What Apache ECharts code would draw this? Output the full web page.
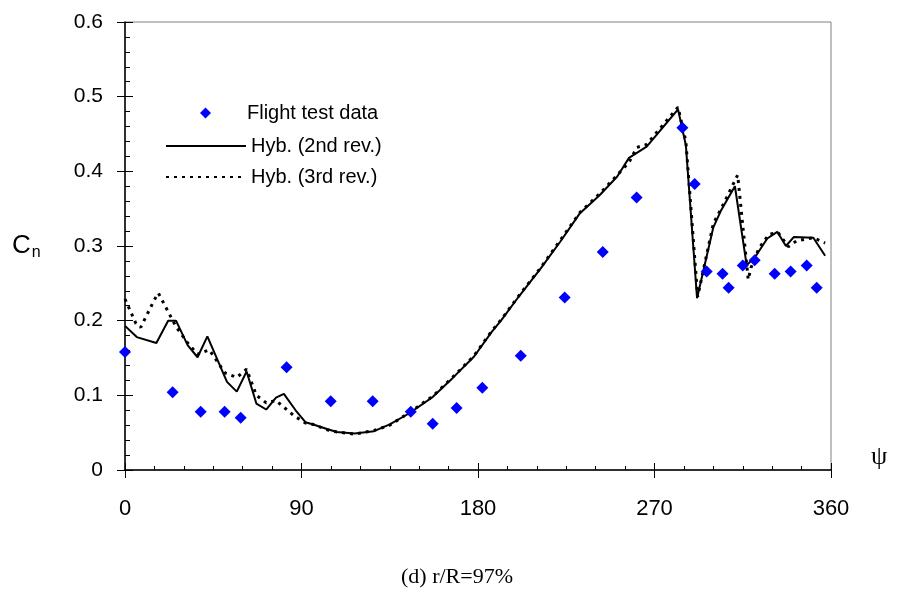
<!DOCTYPE html>
<html>
<head>
<meta charset="utf-8">
<script src="https://cdn.jsdelivr.net/npm/echarts@6/dist/echarts.min.js"></script>
<style>html,body{margin:0;padding:0;background:#fff}#c{width:914px;height:598px}</style>
</head>
<body>
<div id="c"></div>
<script>
// Flight test data
const psiFlight = [0, 24.3, 38.6, 50.8, 59, 82.4, 104.9, 126.3, 145.7, 156.9, 169.1, 182.2, 201.8, 224.2, 243.6, 260.9, 284.2, 290.5, 296.6, 304.7, 307.8, 315, 321.1, 331.3, 339.4, 347.6, 352.7];
const cnFlight  = [0.158, 0.104, 0.078, 0.078, 0.070, 0.1375, 0.092, 0.092, 0.078, 0.062, 0.083, 0.110, 0.153, 0.231, 0.292, 0.365, 0.4585, 0.383, 0.266, 0.263, 0.244, 0.274, 0.281, 0.263, 0.266, 0.274, 0.244];
// Hyb. (2nd rev.)
const psi2 = [0, 6, 16, 22, 26, 32, 37, 42, 52, 57, 62, 67, 72, 77, 81, 87, 92, 96, 103, 108, 117, 127, 135, 145, 157, 167, 178, 187, 192, 201, 212, 222, 232, 242, 251, 257, 266, 273, 282, 286, 291.7, 300, 304, 311, 317, 322, 327.5, 332.6, 337, 341, 351, 357];
const cn2  = [0.193, 0.178, 0.170, 0.200, 0.200, 0.167, 0.151, 0.179, 0.118, 0.105, 0.132, 0.089, 0.081, 0.097, 0.102, 0.080, 0.064, 0.061, 0.055, 0.051, 0.049, 0.052, 0.061, 0.076, 0.098, 0.123, 0.152, 0.185, 0.201, 0.233, 0.270, 0.306, 0.344, 0.368, 0.393, 0.418, 0.433, 0.455, 0.483, 0.435, 0.230, 0.325, 0.348, 0.380, 0.274, 0.288, 0.310, 0.319, 0.300, 0.312, 0.311, 0.287];
// Hyb. (3rd rev.)
const psi3 = [0, 5.6, 8, 15, 17, 26, 32, 37, 43, 51, 57, 62, 67, 72, 77, 86, 92, 96, 103, 108, 117, 127, 135, 145, 157, 167, 178, 187, 192, 201, 212, 222, 232, 242, 251, 257, 261, 266, 273, 282, 286, 292, 300, 304, 312.4, 317.8, 319.2, 323.3, 328.5, 333, 338.2, 342.5, 351, 357];
const cn3  = [0.229, 0.196, 0.191, 0.228, 0.237, 0.192, 0.170, 0.155, 0.161, 0.130, 0.124, 0.135, 0.100, 0.090, 0.093, 0.073, 0.063, 0.061, 0.054, 0.051, 0.048, 0.053, 0.060, 0.077, 0.099, 0.124, 0.153, 0.186, 0.202, 0.234, 0.271, 0.308, 0.345, 0.370, 0.395, 0.412, 0.432, 0.436, 0.458, 0.486, 0.440, 0.232, 0.330, 0.350, 0.395, 0.255, 0.271, 0.297, 0.316, 0.318, 0.299, 0.307, 0.311, 0.304];
const xTicks = [0, 90, 180, 270, 360];
const yTicks = [0, 0.1, 0.2, 0.3, 0.4, 0.5, 0.6];

const zip = (a, b) => a.map((v, i) => [v, b[i]]);
const FONT = 'Liberation Sans, Arial, sans-serif';
const chart = echarts.init(document.getElementById('c'), null, {renderer: 'canvas'});
const legText = {color: '#000', fontFamily: FONT, fontSize: 20};
chart.setOption({
  animation: false,
  backgroundColor: '#fff',
  grid: {left: 125, right: 83, top: 22, bottom: 128, show: true, borderColor: '#808080', borderWidth: 1, backgroundColor: 'transparent'},
  xAxis: [
    {type: 'value', min: 0, max: 360, interval: 90, position: 'bottom',
     axisLine: {show: true, onZero: false, lineStyle: {color: '#000', width: 1.5}},
     axisTick: {show: true, inside: true, length: 7, lineStyle: {color: '#000'}},
     minorTick: {show: true, splitNumber: 6, length: 4, lineStyle: {color: '#000'}},
     splitLine: {show: false},
     axisLabel: {margin: 28, color: '#000', fontFamily: FONT, fontSize: 22,
       formatter: v => xTicks.includes(v) ? String(v) : ''}},
    {type: 'value', min: 0, max: 360, interval: 90, position: 'bottom',
     axisLine: {show: false}, axisTick: {show: true, inside: false, length: 8, lineStyle: {color: '#000'}},
     splitLine: {show: false}, axisLabel: {show: false}}
  ],
  yAxis: [
    {type: 'value', min: 0, max: 0.6, interval: 0.1, position: 'left',
     axisLine: {show: true, onZero: false, lineStyle: {color: '#000', width: 1.5}},
     axisTick: {show: true, inside: true, length: 8, lineStyle: {color: '#000'}},
     minorTick: {show: true, splitNumber: 5, length: 5, lineStyle: {color: '#000'}},
     splitLine: {show: false},
     axisLabel: {margin: 22, color: '#000', fontFamily: FONT, fontSize: 21, formatter: v => {
       const t = yTicks.find(y => Math.abs(y - v) < 1e-9); return t === undefined ? '' : (t === 0 ? '0' : t.toFixed(1));
     }}},
    {type: 'value', min: 0, max: 0.6, interval: 0.1, position: 'left',
     axisLine: {show: false}, axisTick: {show: true, inside: false, length: 8, lineStyle: {color: '#000'}},
     splitLine: {show: false}, axisLabel: {show: false}}
  ],
  legend: [
    {data: ['Flight test data'], left: 195, top: 98, orient: 'vertical', itemWidth: 11, itemHeight: 11, itemGap: 0,
     icon: 'diamond', itemStyle: {opacity: 1},
     textStyle: Object.assign({padding: [0, 0, 0, 31]}, legText), selectedMode: false},
    {data: ['Hyb. (2nd rev.)'], left: 160, top: 131, orient: 'vertical', itemWidth: 80, itemHeight: 14, itemGap: 0,
     itemStyle: {opacity: 0}, textStyle: legText, selectedMode: false},
    {data: ['Hyb. (3rd rev.)'], left: 160, top: 162, orient: 'vertical', itemWidth: 80, itemHeight: 14, itemGap: 0,
     itemStyle: {opacity: 0}, textStyle: legText, selectedMode: false}
  ],
  series: [
    {name: 'Hyb. (3rd rev.)', type: 'line', xAxisIndex: 0, yAxisIndex: 0, data: zip(psi3, cn3), symbol: 'none',
     lineStyle: {color: '#000', width: 3, type: [3, 5]}, itemStyle: {color: '#000'}, z: 3},
    {name: 'Hyb. (2nd rev.)', type: 'line', xAxisIndex: 0, yAxisIndex: 0, data: zip(psi2, cn2), symbol: 'none',
     lineStyle: {color: '#000', width: 2}, itemStyle: {color: '#000'}, z: 4},
    {name: 'Flight test data', type: 'scatter', xAxisIndex: 0, yAxisIndex: 0, data: zip(psiFlight, cnFlight),
     symbol: 'diamond', symbolSize: 12, itemStyle: {color: '#0000FF', opacity: 1}, z: 5}
  ],
  graphic: [
    {type: 'text', left: 12, top: 233, style: {text: '{c|C}{n|n}', rich: {
      c: {fontFamily: FONT, fontSize: 26, fill: '#000'},
      n: {fontFamily: FONT, fontSize: 16, fill: '#000', padding: [14, 0, 0, 1]}}}},
    {type: 'text', left: 871, top: 444, style: {text: 'ψ', fontFamily: 'Liberation Serif, Times New Roman, serif', fontSize: 26, fill: '#000'}},
    {type: 'text', left: 'center', top: 566, style: {text: '(d) r/R=97%', fontFamily: 'Liberation Serif, Times New Roman, serif', fontSize: 22, fill: '#000'}}
  ]
});
</script>
</body>
</html>
